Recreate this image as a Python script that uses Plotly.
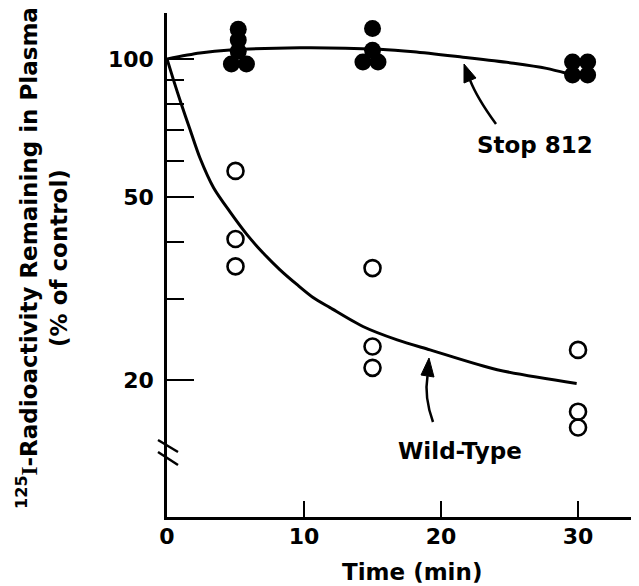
import plotly.graph_objects as go

# ---------------- data ----------------
# Stop 812 (filled circles)
stop_t = [5.2, 5.2, 5.2, 4.7, 5.8, 15.0, 15.0, 14.3, 15.4, 29.6, 30.7, 29.6, 30.7]
stop_v = [116, 110, 104, 97.5, 97.5, 116.5, 104.5, 98.5, 98.5, 98.5, 98.5, 92.3, 92.3]

# Wild-Type (open circles)
wt_t = [5, 5, 5, 15, 15, 15, 30, 30, 30]
wt_v = [57.1, 40.6, 35.4, 35.1, 23.7, 21.3, 23.3, 17.1, 15.8]

# fitted curves
stop_curve_t = [0, 2.4, 4.6, 9.7, 15.5, 18.0, 21.6, 25.3, 27.7, 29.2]
stop_curve_v = [100, 103, 104.6, 105.8, 105, 103.7, 100.9, 97.9, 95.4, 93.0]

wt_curve_t = [0, 0.5, 1.0, 1.7, 2.4, 3.4, 4.6, 5.84, 7.0, 8.25, 9.5, 10.66,
              11.9, 14.3, 16.8, 19.2, 24.1, 29.9]
wt_curve_v = [100, 89.5, 80.5, 70, 61, 52.5, 46.5, 41.5, 37.9, 34.8, 32.3, 30.3,
              28.8, 26.2, 24.5, 23.3, 21.1, 19.7]

x_ticks = [0, 10, 20, 30]
y_major = [20, 50, 100]
y_minor = [30, 40, 60, 70, 80, 90]

# ---------------- layout helpers (page pixel -> paper) ----------------
PAGE_W, PAGE_H = 639, 586
OFF = 8                       # default body margin of the html page
W, H = PAGE_W - OFF, PAGE_H - OFF
L, R, T, B = 167, 639, 13, 517  # plot area in page pixels


def px(x):
    return (x - L) / (R - L)


def py(y):
    return (B - y) / (B - T)


FONT = "DejaVu Sans"
BOLD = dict(family=FONT, color="black", weight="bold")

fig = go.Figure()

fig.add_trace(go.Scatter(x=stop_curve_t, y=stop_curve_v, mode="lines",
                         line=dict(color="black", width=3, shape="spline", smoothing=0.8),
                         hoverinfo="skip", showlegend=False))
fig.add_trace(go.Scatter(x=wt_curve_t, y=wt_curve_v, mode="lines",
                         line=dict(color="black", width=3, shape="spline", smoothing=0.8),
                         hoverinfo="skip", showlegend=False))
fig.add_trace(go.Scatter(x=stop_t, y=stop_v, mode="markers",
                         marker=dict(symbol="circle", size=17, color="black"),
                         showlegend=False, cliponaxis=False))
fig.add_trace(go.Scatter(x=wt_t, y=wt_v, mode="markers",
                         marker=dict(symbol="circle-open", size=16, color="black",
                                     line=dict(width=2.6)),
                         showlegend=False, cliponaxis=False))

shapes = []
# axis break marks
for (x0, y0, x1, y1) in [(158, 440, 178, 452), (158, 452, 178, 465)]:
    shapes.append(dict(type="line", xref="paper", yref="paper",
                       x0=px(x0), y0=py(y0), x1=px(x1), y1=py(y1),
                       line=dict(color="black", width=2.5)))


def qpath(p0, c, p2):
    return (f"M {px(p0[0])} {py(p0[1])} Q {px(c[0])} {py(c[1])} "
            f"{px(p2[0])} {py(p2[1])}")


def tri(a, b, c):
    return (f"M {px(a[0])} {py(a[1])} L {px(b[0])} {py(b[1])} "
            f"L {px(c[0])} {py(c[1])} Z")


# Stop 812 arrow
shapes.append(dict(type="path", xref="paper", yref="paper",
                   path=qpath((496, 124), (477, 98), (470, 80)),
                   line=dict(color="black", width=2.5)))
shapes.append(dict(type="path", xref="paper", yref="paper",
                   path=tri((464, 64), (476, 78), (464, 83)),
                   fillcolor="black", line=dict(color="black", width=1)))
# Wild-Type arrow
shapes.append(dict(type="path", xref="paper", yref="paper",
                   path=qpath((433, 422), (424, 397), (427.5, 376)),
                   line=dict(color="black", width=2.5)))
shapes.append(dict(type="path", xref="paper", yref="paper",
                   path=tri((429, 358), (434, 377), (421, 375)),
                   fillcolor="black", line=dict(color="black", width=1)))


def label(text, x, y, size=23, angle=0):
    return dict(text=text, x=px(x), y=py(y), xref="paper", yref="paper",
                xanchor="center", yanchor="middle", textangle=angle,
                showarrow=False, align="center", font=dict(size=size, **BOLD))


annotations = [
    label("Stop 812", 535, 145),
    label("Wild-Type", 460, 451),
    label("Time (min)", 412, 572),
    label("<sup>125</sup><span style=\"font-family:Liberation Serif\">I</span>"
          "-Radioactivity Remaining in Plasma<br>(% of control)", 42, 258, angle=-90),
]

fig.update_layout(
    width=W, height=H,
    margin=dict(l=L - OFF, r=0, t=T - OFF, b=PAGE_H - B),
    paper_bgcolor="white", plot_bgcolor="white",
    font=dict(family=FONT, color="black"),
    shapes=shapes, annotations=annotations,
    xaxis=dict(range=[0, 34.45], showline=True, linewidth=2.5, linecolor="black",
               ticks="inside", ticklen=16, tickwidth=2.2, tickcolor="black",
               tickvals=x_ticks, ticktext=[str(v) for v in x_ticks],
               tickfont=dict(size=22, **BOLD),
               showgrid=False, zeroline=False, ticklabelstandoff=-2),
    yaxis=dict(type="log", range=[1.004, 2.1], showline=True, linewidth=2.5,
               linecolor="black", ticks="inside", ticklen=27, tickwidth=2.2,
               tickcolor="black", tickvals=y_major,
               ticktext=[str(v) for v in y_major],
               tickfont=dict(size=22, **BOLD),
               minor=dict(tickvals=y_minor, ticks="inside", ticklen=17,
                          tickwidth=2.2, tickcolor="black", showgrid=False),
               showgrid=False, zeroline=False, ticklabelstandoff=6),
)

fig.write_html("out.html")
